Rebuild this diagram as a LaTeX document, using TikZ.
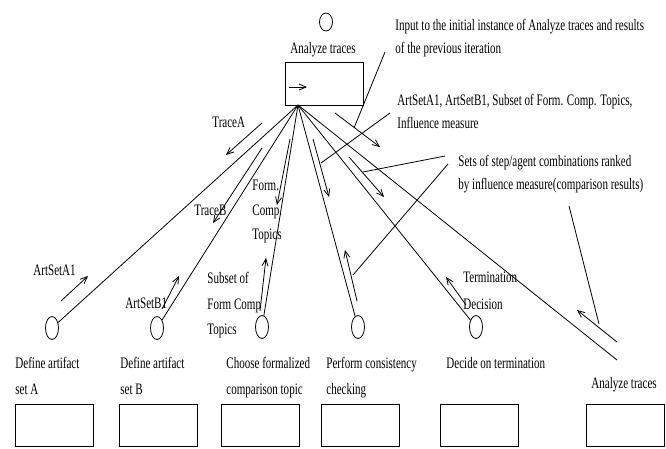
\documentclass[tikz,border=0pt]{standalone}
\usepackage{graphicx}
\usepackage{fontspec}
\setmainfont{Liberation Serif}
\usetikzlibrary{shapes.geometric,arrows.meta}
\newcommand{\sq}[1]{\scalebox{0.69}[1]{#1}}
\begin{document}
\begin{tikzpicture}[x=1pt,y=-1pt,
  line width=0.8pt,
  every node/.style={inner sep=0pt, font=\fontsize{16}{23}\selectfont},
  lbl/.style={anchor=north west, align=left},
  stepcirc/.style={draw, ellipse, minimum width=13pt, minimum height=23pt},
  actbox/.style={draw, rectangle, minimum width=78pt, minimum height=42pt},
  arr/.style={-{Straight Barb[length=7pt,width=6pt]}}]
\useasboundingbox (0,0) rectangle (666,448);

% top activity
\node[draw, ellipse, minimum width=13pt, minimum height=18pt] (topc) at (326,22) {};
\node (toplbl) at (323,50) {\sq{Analyze traces}};
\node[actbox, minimum height=43pt] (main) at (324,83.5) {};
\coordinate (ia1) at (289,87);
\coordinate (ia2) at (307,87);
\draw[arr] (ia1) -- (ia2);
\coordinate (conv) at (298,105);

% bottom circles
\node[stepcirc] (c1) at (52,328) {};
\node[stepcirc] (c2) at (157,328) {};
\node[stepcirc] (c3) at (262,327) {};
\node[stepcirc] (c4) at (358,327) {};
\node[stepcirc] (c5) at (476,327) {};
\coordinate (lend) at (617,360);

\draw (conv) -- (c1);
\draw (conv) -- (c2);
\draw (conv) -- (c3);
\draw (conv) -- (c4);
\draw (conv) -- (c5);
\draw (conv) -- (lend);

% flow arrows
\coordinate (taS) at (262,123); \coordinate (taE) at (226,155);
\coordinate (tbS) at (262,148); \coordinate (tbE) at (213,223);
\coordinate (aaS) at (61,301);  \coordinate (aaE) at (88,276);
\coordinate (abS) at (162,309); \coordinate (abE) at (179,276);
\coordinate (fcS) at (290,139); \coordinate (fcE) at (277,205);
\coordinate (sfS) at (260,311); \coordinate (sfE) at (266,258);
\coordinate (pdS) at (313,139); \coordinate (pdE) at (329,197);
\coordinate (puS) at (357,301); \coordinate (puE) at (345,250);
\coordinate (roS) at (335,113); \coordinate (roE) at (380,147);
\coordinate (ddS) at (349,157); \coordinate (ddE) at (384,197);
\coordinate (tdS) at (466,305); \coordinate (tdE) at (446,277);
\coordinate (brS) at (617,342); \coordinate (brE) at (577,310);
\draw[arr] (taS) -- (taE);
\draw[arr] (tbS) -- (tbE);
\draw[arr] (aaS) -- (aaE);
\draw[arr] (abS) -- (abE);
\draw[arr] (fcS) -- (fcE);
\draw[arr] (sfS) -- (sfE);
\draw[arr] (pdS) -- (pdE);
\draw[arr] (puS) -- (puE);
\draw[arr] (roS) -- (roE);
\draw[arr] (ddS) -- (ddE);
\draw[arr] (tdS) -- (tdE);
\draw[arr] (brS) -- (brE);

% callouts
\coordinate (inA) at (385,52);  \coordinate (inB) at (354,128);
\coordinate (asA) at (390,113); \coordinate (asB) at (321,163);
\coordinate (s1A) at (445,156); \coordinate (s1B) at (363,172);
\coordinate (s2A) at (448,164); \coordinate (s2B) at (353,275);
\coordinate (s3A) at (569,206); \coordinate (s3B) at (599,324);
\draw (inA) -- (inB);
\draw (asA) -- (asB);
\draw (s1A) -- (s1B);
\draw (s2A) -- (s2B);
\draw (s3A) -- (s3B);

% labels
\node[lbl] (tin) at (395,19) {\sq{Input to the initial instance of Analyze traces and results}\\\sq{of the previous iteration}};
\node[lbl] (tas) at (397,94) {\sq{ArtSetA1, ArtSetB1, Subset of Form. Comp. Topics,}\\\sq{Influence measure}};
\node[lbl] (tsets) at (458,155) {\sq{Sets of step/agent combinations ranked}\\\sq{by influence measure(comparison results)}};
\node[lbl] (ttra) at (212,117) {\sq{TraceA}};
\node[lbl] (ttrb) at (194,205) {\sq{TraceB}};
\node[lbl] (tasa) at (33,264) {\sq{ArtSetA1}};
\node[lbl] (tasb) at (125,297) {\sq{ArtSetB1}};
\node[lbl, font=\fontsize{16}{24.5}\selectfont] (tfct) at (252,180) {\sq{Form.}\\\sq{Comp.}\\\sq{Topics}};
\node[lbl, font=\fontsize{16}{25.5}\selectfont] (tsub) at (207,272) {\sq{Subset of}\\\sq{Form Comp}\\\sq{Topics}};
\node[lbl, font=\fontsize{16}{27}\selectfont] (tterm) at (463,271) {\sq{Termination}\\\sq{Decision}};

\node[lbl, font=\fontsize{16}{26}\selectfont] (l1) at (15,357) {\sq{Define artifact}\\\sq{set A}};
\node[lbl, font=\fontsize{16}{26}\selectfont] (l2) at (120,357) {\sq{Define artifact}\\\sq{set B}};
\node[lbl, font=\fontsize{16}{26}\selectfont] (l3) at (226,357) {\sq{Choose formalized}\\\sq{comparison topic}};
\node[lbl, font=\fontsize{16}{26}\selectfont] (l4) at (326,357) {\sq{Perform consistency}\\\sq{checking}};
\node[lbl] (l5) at (446,357) {\sq{Decide on termination}};
\node[lbl] (l6) at (591,377) {\sq{Analyze traces}};

% bottom boxes
\node[actbox] (b1) at (54,425) {};
\node[actbox] (b2) at (158.5,425) {};
\node[actbox] (b3) at (260,425) {};
\node[actbox] (b4) at (360,425) {};
\node[actbox] (b5) at (479,425) {};
\node[actbox] (b6) at (625.5,425) {};
\end{tikzpicture}
\end{document}
